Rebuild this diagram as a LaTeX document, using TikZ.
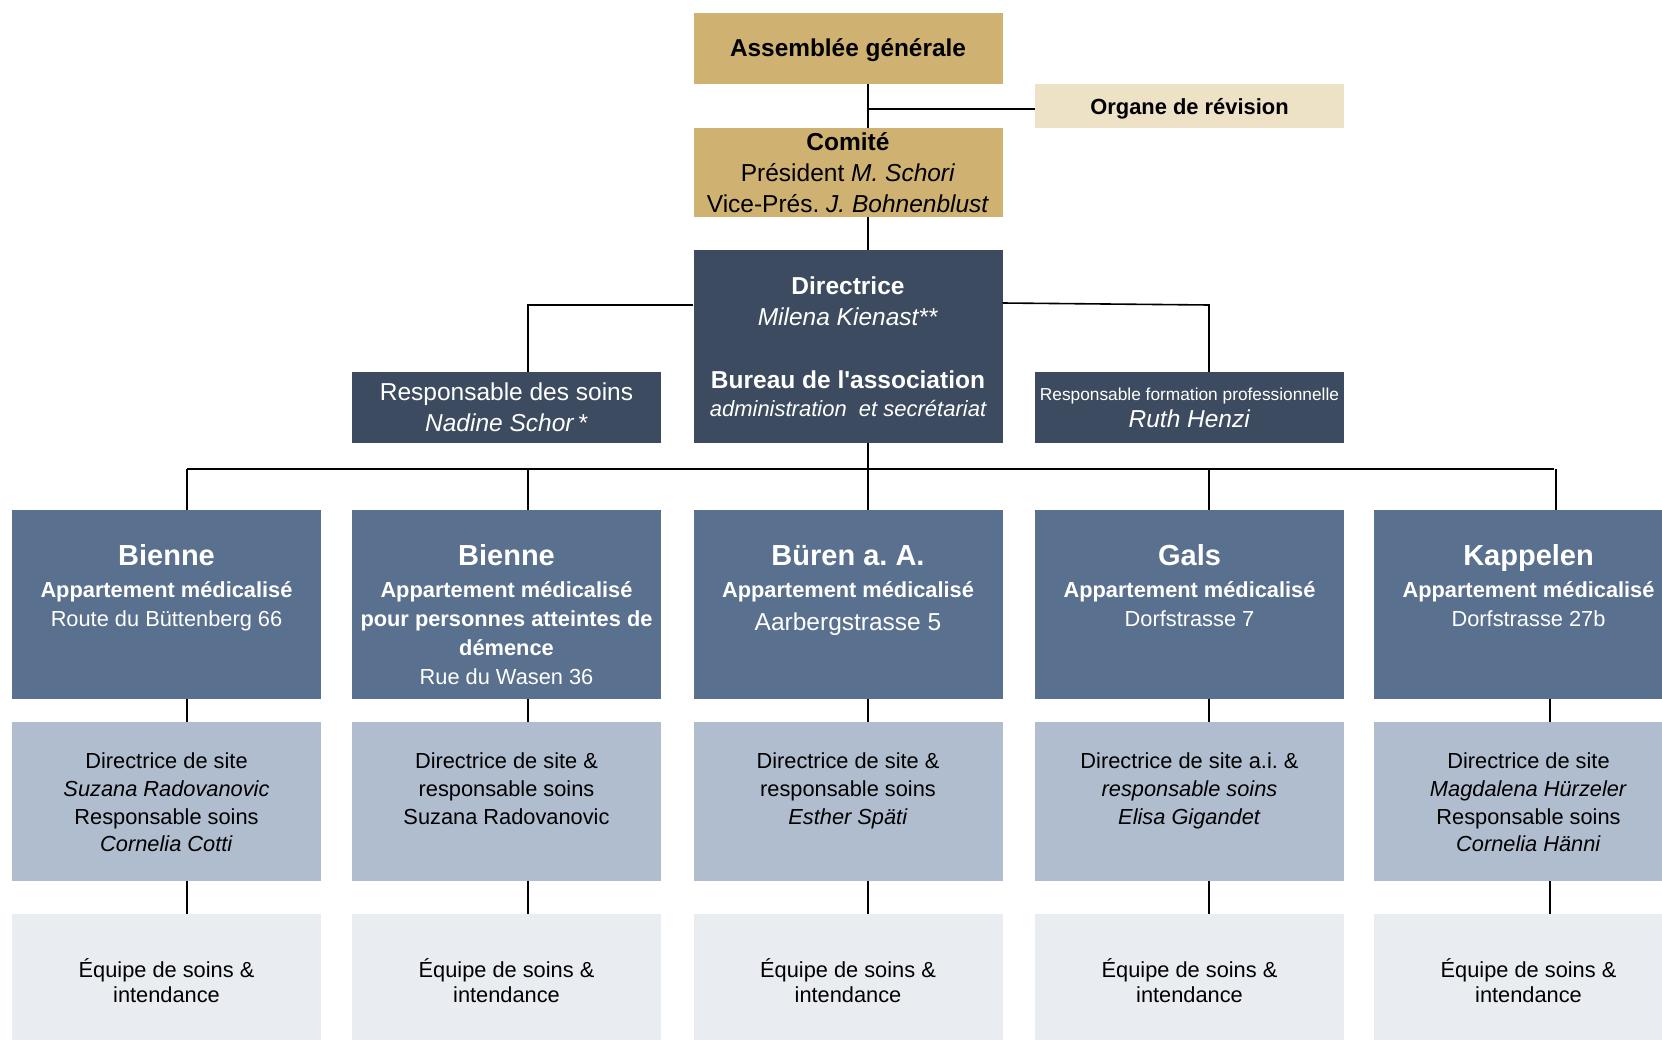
\documentclass[tikz,border=0pt]{standalone}
\usepackage{fontspec}
\setmainfont{Liberation Sans}
\usepackage{tikz}
\frenchspacing
\definecolor{assgold}{HTML}{CFB171}
\definecolor{revsand}{HTML}{EDE1C6}
\definecolor{dirnavy}{HTML}{3C4B5F}
\definecolor{siteblue}{HTML}{59708F}
\definecolor{leadblue}{HTML}{B0BDCF}
\definecolor{teamgrey}{HTML}{E9ECF1}
\tikzset{
  box/.style={rectangle, inner sep=0pt, minimum width=309pt, text width=309pt, align=flush center},
  goldbox/.style={box, fill=assgold, font=\fontsize{24.5}{31}\selectfont},
  revbox/.style={box, fill=revsand, minimum height=44pt, text height=16pt, text depth=0pt, font=\fontsize{21.9}{27}\selectfont\bfseries},
  navybox/.style={box, fill=dirnavy, text=white, font=\fontsize{24.5}{31}\selectfont},
  sitebox/.style={box, fill=siteblue, minimum height=189pt},
  leadbox/.style={box, fill=leadblue, minimum height=159pt},
  teambox/.style={box, fill=teamgrey, minimum height=126pt, text height=26pt, text depth=26pt, font=\fontsize{21.8}{25.5}\selectfont},
  sitetext/.style={anchor=base, inner sep=0pt, text width=305pt, align=flush center, text=white, font=\fontsize{21.8}{29}\selectfont},
  leadtext/.style={anchor=base, inner sep=0pt, text width=305pt, align=flush center, font=\fontsize{21.8}{27.6}\selectfont},
  link/.style={line width=1.6pt}
}
\newcommand{\sitename}[1]{{\fontsize{29}{35}\selectfont\bfseries #1}}
\begin{document}
\begin{tikzpicture}[x=1pt,y=-1pt]
\useasboundingbox (0,0) rectangle (1662,1041);

% top of the association
\node[goldbox, minimum height=71pt, text height=16.4pt, text depth=0pt, font=\fontsize{24.4}{31}\selectfont\bfseries] (ag) at (848,48.5) {Assemblée générale};
\node[revbox] (orev) at (1189.5,106) {Organe de révision};
\node[goldbox, minimum height=89pt] (comite) at (848,172.5)
  {\textbf{Comité}\\ Président \textit{M. Schori}\\ Vice-Prés. \textit{J. Bohnenblust}};
\node[navybox, minimum height=193pt] (dir) at (848,346.5)
  {\textbf{Directrice}\\ \textit{Milena Kienast**}\\[32pt]
   \textbf{Bureau de l\textquotesingle association}\\[-3pt]
   {\fontsize{22}{28}\selectfont\itshape administration\ \ et secrétariat}};
\node[navybox, minimum height=71pt] (rsoins) at (506.5,407.5)
  {Responsable des soins\\ \textit{Nadine Schor\,*}};
\node[navybox, minimum height=71pt] (rform) at (1189.5,407.5)
  {{\fontsize{17.3}{27}\selectfont Responsable formation professionnelle}\\[-4pt] \textit{Ruth Henzi}};

% sites
\node[sitebox] (site1) at (166.5,604.5) {};
\node[sitebox] (site2) at (506.5,604.5) {};
\node[sitebox] (site3) at (848,604.5) {};
\node[sitebox] (site4) at (1189.5,604.5) {};
\node[sitebox] (site5) at (1528.5,604.5) {};
\node[sitetext] (site1t) at ([yshift=-56pt]site1.north)
  {\sitename{Bienne}\\[3pt] \textbf{Appartement médicalisé}\\ Route du Büttenberg 66};
\node[sitetext] (site2t) at ([yshift=-56pt]site2.north)
  {\sitename{Bienne}\\[3pt] \textbf{Appartement médicalisé}\\ \textbf{pour personnes atteintes de}\\ \textbf{démence}\\ Rue du Wasen 36};
\node[sitetext] (site3t) at ([yshift=-56pt]site3.north)
  {\sitename{Büren a. A.}\\[3pt] \textbf{Appartement médicalisé}\\[4pt] {\fontsize{24.5}{29}\selectfont Aarbergstrasse 5}};
\node[sitetext] (site4t) at ([yshift=-56pt]site4.north)
  {\sitename{Gals}\\[3pt] \textbf{Appartement médicalisé}\\ Dorfstrasse 7};
\node[sitetext] (site5t) at ([yshift=-56pt]site5.north)
  {\sitename{Kappelen}\\[3pt] \textbf{Appartement médicalisé}\\ Dorfstrasse 27b};

% site leads
\node[leadbox] (lead1) at (166.5,801.5) {};
\node[leadbox] (lead2) at (506.5,801.5) {};
\node[leadbox] (lead3) at (848,801.5) {};
\node[leadbox] (lead4) at (1189.5,801.5) {};
\node[leadbox] (lead5) at (1528.5,801.5) {};
\node[leadtext] (lead1t) at ([yshift=-47pt]lead1.north)
  {Directrice de site\\ \textit{Suzana Radovanovic}\\ Responsable soins\\ \textit{Cornelia Cotti}};
\node[leadtext] (lead2t) at ([yshift=-47pt]lead2.north)
  {Directrice de site \&\\ responsable soins\\ Suzana Radovanovic};
\node[leadtext] (lead3t) at ([yshift=-47pt]lead3.north)
  {Directrice de site \&\\ responsable soins\\ \textit{Esther Späti}};
\node[leadtext] (lead4t) at ([yshift=-47pt]lead4.north)
  {Directrice de site a.i. \&\\ \textit{responsable soins}\\ \textit{Elisa Gigandet}};
\node[leadtext] (lead5t) at ([yshift=-47pt]lead5.north)
  {Directrice de site\\ \textit{Magdalena Hürzeler}\\ Responsable soins\\ \textit{Cornelia Hänni}};

% teams
\node[teambox] (team1) at (166.5,977) {Équipe de soins \&\\ intendance};
\node[teambox] (team2) at (506.5,977) {Équipe de soins \&\\ intendance};
\node[teambox] (team3) at (848,977) {Équipe de soins \&\\ intendance};
\node[teambox] (team4) at (1189.5,977) {Équipe de soins \&\\ intendance};
\node[teambox] (team5) at (1528.5,977) {Équipe de soins \&\\ intendance};

% connectors
\coordinate (spine) at (868,0);
\coordinate (lft) at (528,305);
\coordinate (rgt) at (1209,305);
\coordinate (c1) at (187,469);
\coordinate (c2) at (528,469);
\coordinate (c3) at (868,469);
\coordinate (c4) at (1209,469);
\coordinate (c5) at (1554,469);
\coordinate (d5) at (1550,700);
\draw[link] (spine |- ag.south) -- (spine |- comite.north);
\draw[link] ([yshift=-3pt]spine |- orev.west) -- ([yshift=-3pt]orev.west);
\draw[link] (spine |- comite.south) -- (spine |- dir.north);
\draw[link] (dir.west |- lft) -- (lft) -- (lft |- rsoins.north);
\draw[link] ([yshift=2pt]dir.east |- rgt) -- (rgt) -- (rgt |- rform.north);
\draw[link] (spine |- dir.south) -- (c3);
\draw[link] (c1) -- (c5);
\draw[link] (c1) -- (c1 |- site1.north);
\draw[link] (c2) -- (c2 |- site2.north);
\draw[link] (c3) -- (c3 |- site3.north);
\draw[link] (c4) -- (c4 |- site4.north);
\draw[link] ([xshift=2pt]c5) -- ([xshift=2pt]c5 |- site5.north);
\draw[link] (c1 |- site1.south) -- (c1 |- lead1.north);
\draw[link] (c2 |- site2.south) -- (c2 |- lead2.north);
\draw[link] (c3 |- site3.south) -- (c3 |- lead3.north);
\draw[link] (c4 |- site4.south) -- (c4 |- lead4.north);
\draw[link] (d5 |- site5.south) -- (d5 |- lead5.north);
\draw[link] (c1 |- lead1.south) -- (c1 |- team1.north);
\draw[link] (c2 |- lead2.south) -- (c2 |- team2.north);
\draw[link] (c3 |- lead3.south) -- (c3 |- team3.north);
\draw[link] (c4 |- lead4.south) -- (c4 |- team4.north);
\draw[link] (d5 |- lead5.south) -- (d5 |- team5.north);
\end{tikzpicture}
\end{document}
